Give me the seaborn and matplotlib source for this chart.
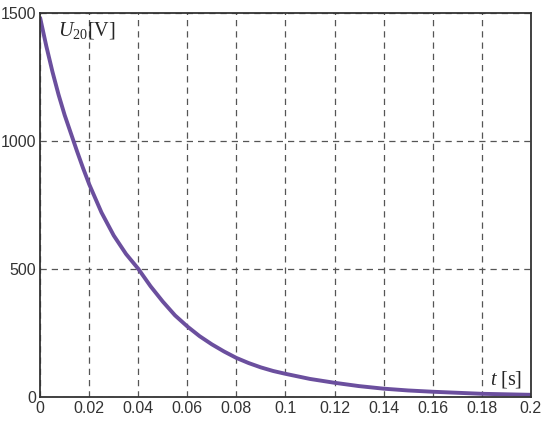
import matplotlib
matplotlib.use("Agg")
import matplotlib.pyplot as plt
import seaborn as sns
import pandas as pd

# Values
t = [0, 0.0025, 0.005, 0.0075, 0.01, 0.0125, 0.015, 0.0175, 0.02, 0.025, 0.03,
     0.035, 0.04, 0.045, 0.05, 0.055, 0.06, 0.065, 0.07, 0.075, 0.08, 0.085,
     0.09, 0.095, 0.1, 0.11, 0.12, 0.13, 0.14, 0.15, 0.16, 0.17, 0.18, 0.19, 0.2]
u20 = [1480, 1370, 1270, 1180, 1100, 1030, 960, 893, 830, 720, 630,
       558, 500, 432, 372, 318, 275, 237, 205, 177, 152, 132,
       115, 101, 90, 70, 55, 42, 32, 25, 20, 16, 12, 10, 8]
x_ticks = [0, 0.02, 0.04, 0.06, 0.08, 0.1, 0.12, 0.14, 0.16, 0.18, 0.2]
x_labels = ["0", "0.02", "0.04", "0.06", "0.08", "0.1", "0.12", "0.14", "0.16", "0.18", "0.2"]
y_ticks = [0, 500, 1000, 1500]

data = pd.DataFrame({"t": t, "u": u20})

sns.set_theme(style="white")
plt.rcParams["font.family"] = ["Liberation Sans", "DejaVu Sans"]
plt.rcParams["mathtext.fontset"] = "custom"
plt.rcParams["mathtext.rm"] = "Liberation Serif"
plt.rcParams["mathtext.it"] = "Liberation Serif:italic"

fig, ax = plt.subplots(figsize=(5.5, 4.24), dpi=100)
fig.subplots_adjust(left=0.073, right=0.965, top=0.97, bottom=0.064)

sns.lineplot(data=data, x="t", y="u", ax=ax, color="#6b4f9e", linewidth=2.8)

ax.set_xlim(0, 0.2)
ax.set_ylim(0, 1500)
ax.set_xticks(x_ticks)
ax.set_xticklabels(x_labels)
ax.set_yticks(y_ticks)
ax.tick_params(axis="both", length=0, labelsize=11.5, colors="#333333", pad=3)
ax.grid(True, linestyle=(0, (5, 4)), color="#555555", linewidth=0.9)
for s in ax.spines.values():
    s.set_color("#333333")
    s.set_linewidth(1.3)
ax.set_xlabel("")
ax.set_ylabel("")

ax.text(0.0072, 1430, r"$U_{\mathrm{20}}[\mathrm{V}]$", fontsize=14.5, va="center", ha="left")
ax.text(0.1965, 66, r"$t\ [\mathrm{s}]$", fontsize=14.5, va="center", ha="right")

fig.savefig("out.png", dpi=100)
